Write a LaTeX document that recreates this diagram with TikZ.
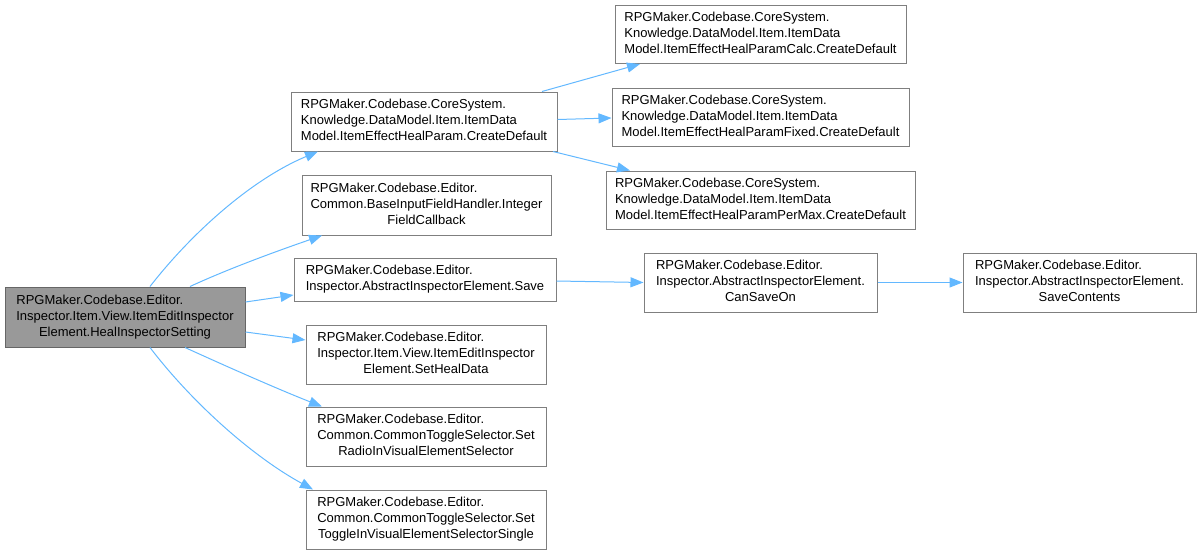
\documentclass[tikz,border=0pt]{standalone}
\usepackage{fontspec}
\setmainfont{Liberation Sans}
\usetikzlibrary{arrows.meta}
\definecolor{edgeblue}{HTML}{63B8FF}
\definecolor{boxborder}{HTML}{7F7F7F}
\definecolor{mainfill}{HTML}{999999}
\definecolor{mainborder}{HTML}{666666}
\newcommand\boxtext[2]{\begin{tabular}{@{}l@{}}#1\\\multicolumn{1}{@{}c@{}}{#2}\end{tabular}}
\tikzset{
  fnbox/.style={draw=boxborder, line width=1pt, fill=white, inner sep=0pt,
    font=\fontsize{13}{16}\selectfont, anchor=center},
  mainbox/.style={fnbox, draw=mainborder, fill=mainfill},
  call/.style={draw=edgeblue, line width=1pt, -{Triangle[length=13pt,width=10pt]}},
}
\begin{document}
\begin{tikzpicture}[x=1pt,y=-1pt]
\useasboundingbox (0,0) rectangle (1201,555);
\node[mainbox, minimum width=240pt, minimum height=60pt] (main) at (125,317)
  {\boxtext{RPGMaker.Codebase.Editor.\\Inspector.Item.View.ItemEditInspector}{Element.HealInspectorSetting}};
\node[fnbox, minimum width=266pt, minimum height=59pt] (A) at (424,121.5)
  {\boxtext{RPGMaker.Codebase.CoreSystem.\\Knowledge.DataModel.Item.ItemData}{Model.ItemEffectHealParam.CreateDefault}};
\node[fnbox, minimum width=249pt, minimum height=60pt] (B) at (426.5,205)
  {\boxtext{RPGMaker.Codebase.Editor.\\Common.BaseInputFieldHandler.Integer}{FieldCallback}};
\node[fnbox, minimum width=262pt, minimum height=43pt] (C) at (425,279.5)
  {\boxtext{RPGMaker.Codebase.Editor.}{Inspector.AbstractInspectorElement.Save}};
\node[fnbox, minimum width=240pt, minimum height=59pt] (D) at (426,354.5)
  {\boxtext{RPGMaker.Codebase.Editor.\\Inspector.Item.View.ItemEditInspector}{Element.SetHealData}};
\node[fnbox, minimum width=240pt, minimum height=59pt] (E) at (426,436.5)
  {\boxtext{RPGMaker.Codebase.Editor.\\Common.CommonToggleSelector.Set}{RadioInVisualElementSelector}};
\node[fnbox, minimum width=240pt, minimum height=59pt] (F) at (426,519.5)
  {\boxtext{RPGMaker.Codebase.Editor.\\Common.CommonToggleSelector.Set}{ToggleInVisualElementSelectorSingle}};
\node[fnbox, minimum width=291pt, minimum height=58pt] (G) at (760.5,34.5)
  {\boxtext{RPGMaker.Codebase.CoreSystem.\\Knowledge.DataModel.Item.ItemData}{Model.ItemEffectHealParamCalc.CreateDefault}};
\node[fnbox, minimum width=297pt, minimum height=58pt] (H) at (760.5,117.5)
  {\boxtext{RPGMaker.Codebase.CoreSystem.\\Knowledge.DataModel.Item.ItemData}{Model.ItemEffectHealParamFixed.CreateDefault}};
\node[fnbox, minimum width=309pt, minimum height=58pt] (I) at (760.5,200)
  {\boxtext{RPGMaker.Codebase.CoreSystem.\\Knowledge.DataModel.Item.ItemData}{Model.ItemEffectHealParamPerMax.CreateDefault}};
\node[fnbox, minimum width=233pt, minimum height=59pt] (J) at (760.5,282.5)
  {\boxtext{RPGMaker.Codebase.Editor.\\Inspector.AbstractInspectorElement.}{CanSaveOn}};
\node[fnbox, minimum width=233pt, minimum height=59pt] (K) at (1079.5,282.5)
  {\boxtext{RPGMaker.Codebase.Editor.\\Inspector.AbstractInspectorElement.}{SaveContents}};
% edges from main
\draw[call] ([xshift=25pt]main.north) .. controls (190,235) and (250,180) .. ([xshift=-106pt]A.south);
\draw[call] ([xshift=65pt]main.north) .. controls (230,268) and (280,250) .. ([xshift=-104.5pt]B.south);
\draw[call] ([yshift=15pt]main.east) -- ([yshift=-15.5pt]C.west);
\draw[call] ([yshift=-15pt]main.east) -- ([yshift=14.5pt]D.west);
\draw[call] ([xshift=60pt]main.south) .. controls (230,368) and (280,390) .. ([xshift=-104pt]E.north);
\draw[call] ([xshift=25pt]main.south) .. controls (190,400) and (250,455) .. ([xshift=-113pt]F.north);
% edges from A
\draw[call] ([xshift=118pt]A.north) -- ([xshift=-120.5pt]G.south);
\draw[call] ([yshift=2pt]A.east) -- ([yshift=-0.5pt]H.west);
\draw[call] ([xshift=129pt]A.south) -- ([xshift=-130.5pt]I.north);
% Save chain
\draw[call] ([yshift=-1.5pt]C.east) -- (J.west);
\draw[call] (J.east) -- (K.west);
\end{tikzpicture}
\end{document}
